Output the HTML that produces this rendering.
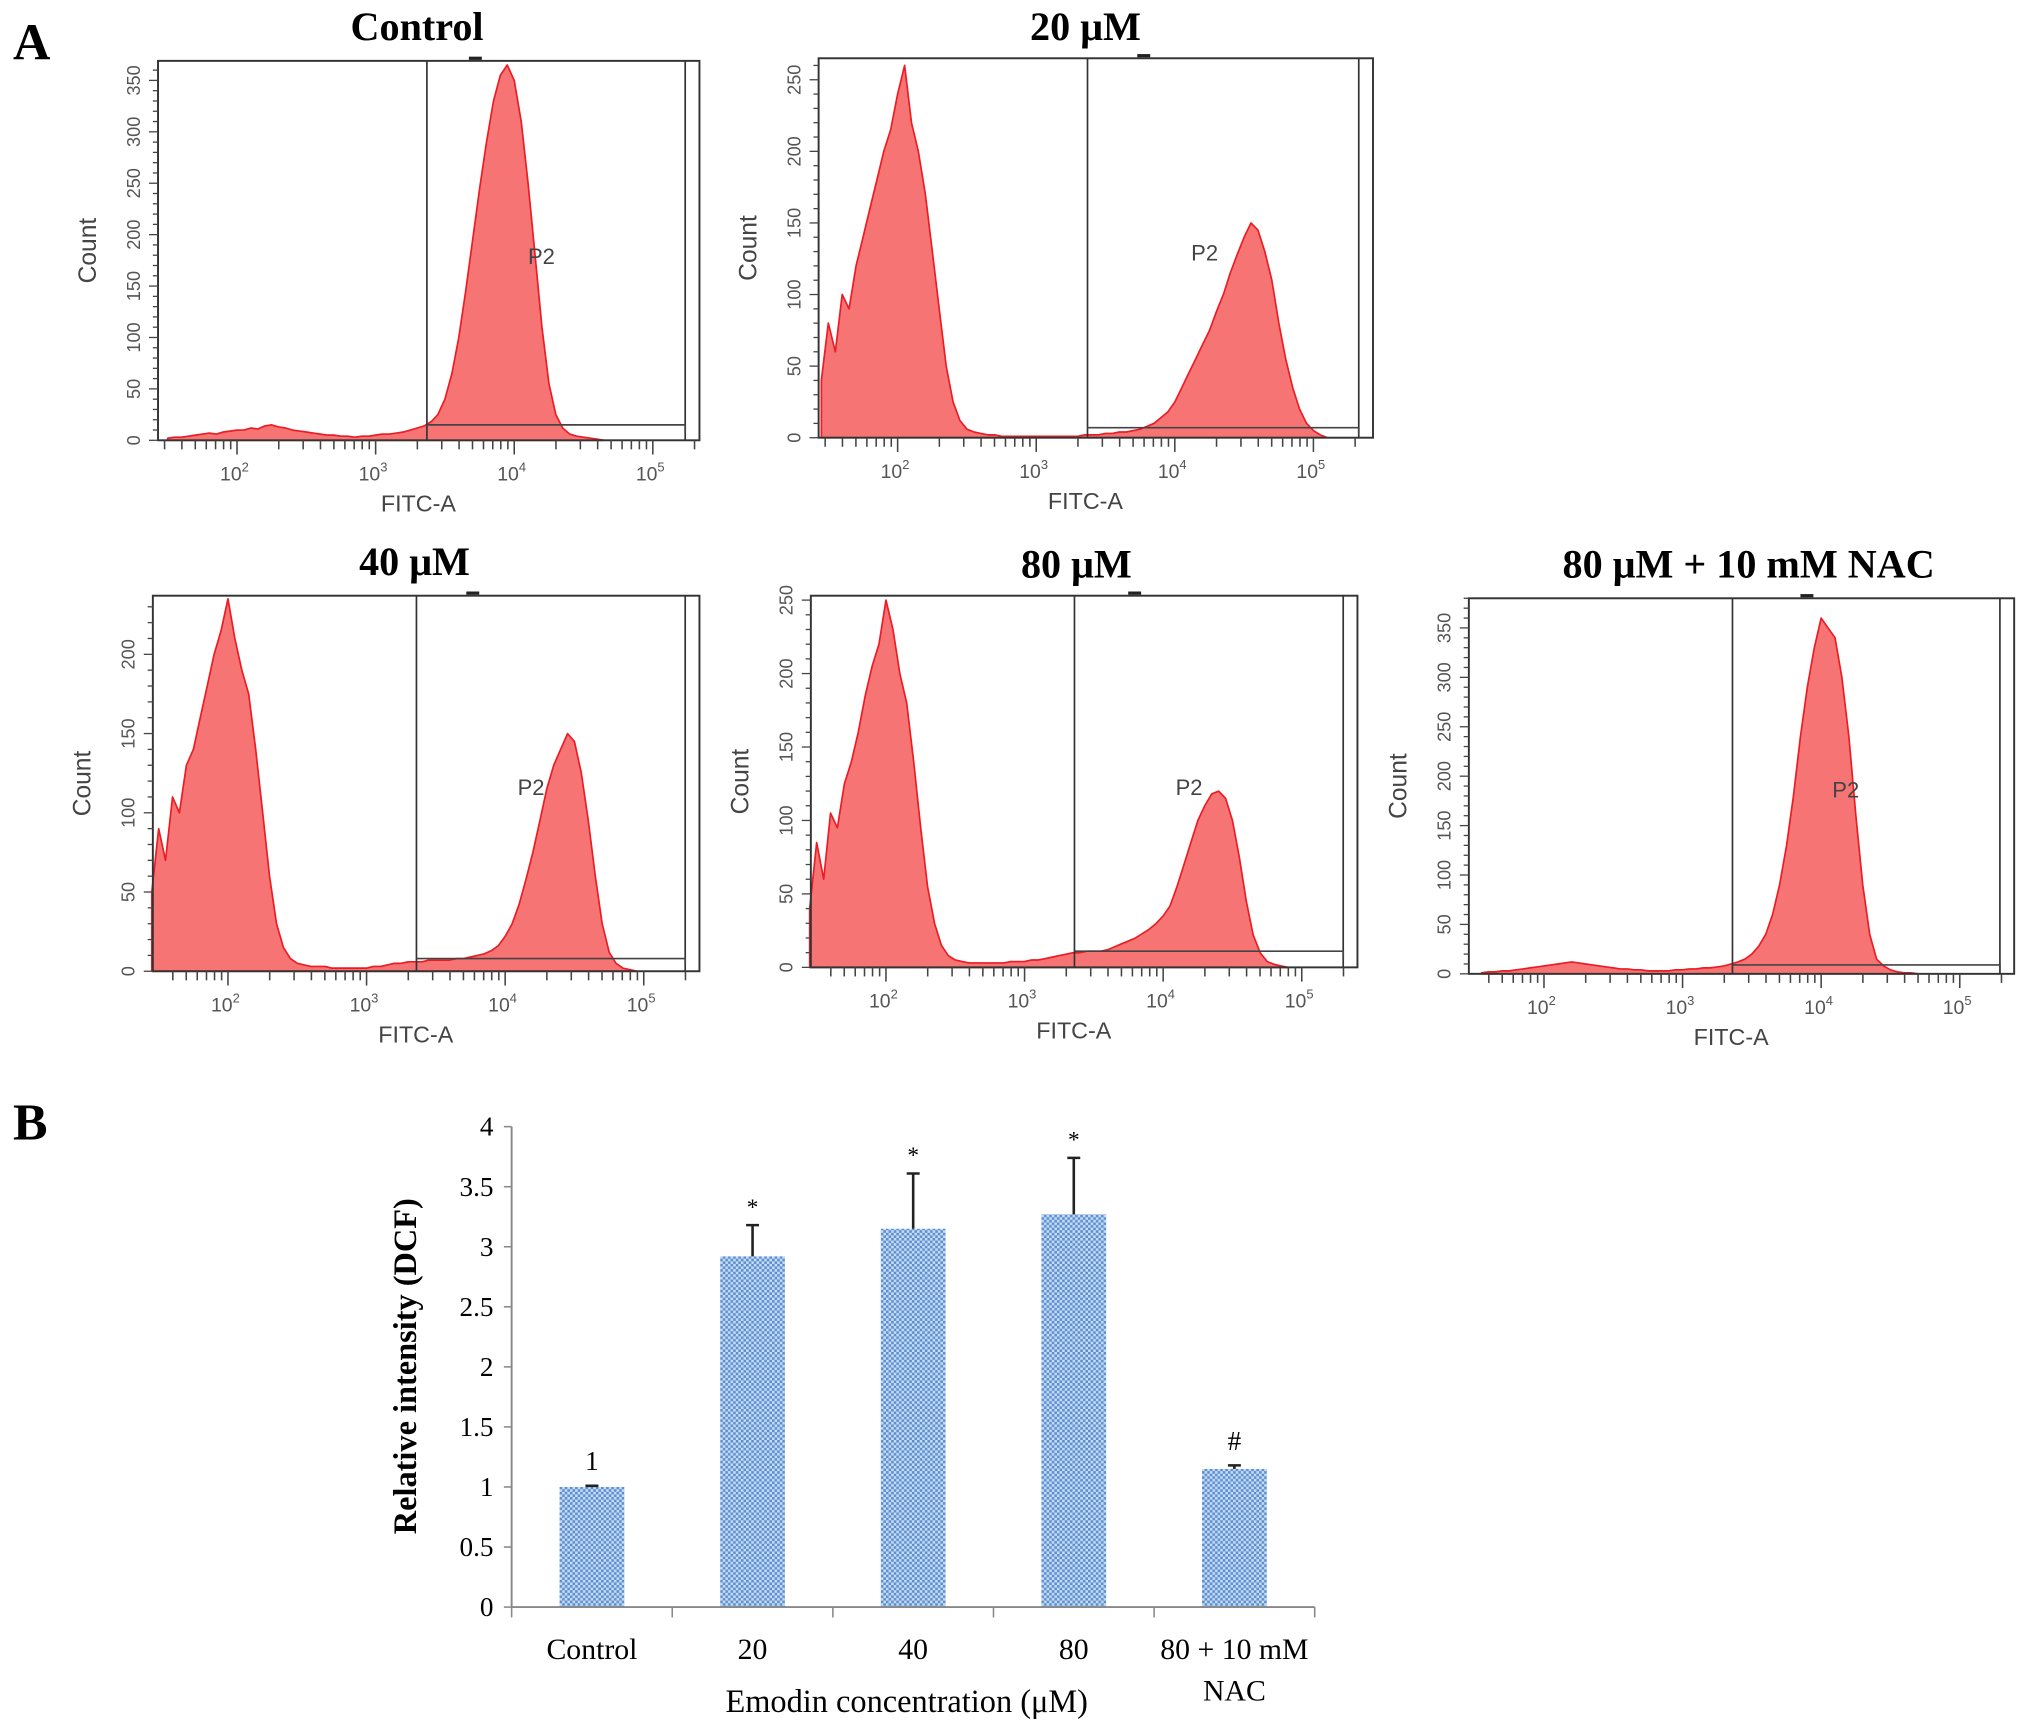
<!DOCTYPE html>
<html><head><meta charset="utf-8"><style>
html,body{margin:0;padding:0;background:#fff}
svg{display:block}
</style></head><body>
<svg id="fig" width="2031" height="1734" viewBox="0 0 1568 1339" preserveAspectRatio="none" xmlns="http://www.w3.org/2000/svg">
<defs>
<pattern id="chk" width="4" height="4" patternUnits="userSpaceOnUse">
<rect width="4" height="4" fill="#c9dcf2"/>
<rect width="2" height="2" fill="#5a8fd2"/>
<rect x="2" y="2" width="2" height="2" fill="#5a8fd2"/>
</pattern>
</defs>
<text x="10" y="46" font-family="Liberation Serif, serif" font-weight="bold" font-size="40">A</text>
<text x="10" y="880" font-family="Liberation Serif, serif" font-weight="bold" font-size="40">B</text>
<g id="hists"></g>
<g id="bars"></g>
</svg>
<script>
// ---------- Histogram data (counts per log10 bin, step 0.05) ----------
const histStart = [1.5,1.45,1.45,1.45,1.55];
const binStep = 0.05;
const histControl = [2,3,3,4,5,6,7,6,8,9,10,10, 12,11,14,15,13,12,10,9,8,7, 6,5,5,4,4,3,4,4,5,6, 6,7,8,10,12,14,18, 25,40,65,100,145,195, 245,290,330,355,365,350, 310,250,180,110,55,25, 12,6,4,3,2,1,0];
const hist20 = [40,80,60,100,90,120,140,160,180,200,215,240, 260,220,200,170,130,90,50,25,12,6, 4,3,2,2,1,1,1,1,1,1, 1,1,1,1,1,1,2, 2,2,3,3,4,4, 5,6,8,10,14,18, 25,35,45,55,65,75, 88,100,115,128,140,150,145, 130,110,80,55,35,20,10, 5,2,0];
const hist40 = [50,90,70,110,100,130,140,160,180,200,215,235, 210,190,175,140,100,60,30,15,8,5, 4,3,3,3,2,2,2,2,2,2, 3,3,4,5,5,6,6, 6,7,7, 7,7,8,8,9,10, 11,13,16,22,30,42, 58,75,95,115,130,140, 150,145,125,95,60,30,12, 5,2,1,0];
const hist80 = [40,85,60,105,95,125,140,160,185,205,220,250, 230,200,180,140,95,55,30,15,8,5, 4,3,3,3,3,3,3,4,4,4, 5,5,6,7,8,9,10, 10,11,11, 11,12,14,16,18,20, 23,26,30,35,42,55, 70,85,100,110,118,120, 115,100,75,45,22,10,4, 2,1,0];
const histNAC = [1,2,2,3,3,4,5,6,7,8,9,10, 11,12,11,10,9,8,7,6,5,5, 4,4,3,3,3,3,4,4,5,5, 6,6,7,8,10,12,15, 20,28,40,60,90,130, 180,240,290,330,360,350, 340,300,240,160,90,40, 15,8,4,2,1,1,0];
const histTitles = ["Control","20 μM","40 μM","80 μM","80 μM + 10 mM NAC"];
const histYTicks = [[0,50,100,150,200,250,300,350],[0,50,100,150,200,250],[0,50,100,150,200],[0,50,100,150,200,250],[0,50,100,150,200,250,300,350]];
const histYTop = [369,265,237,253,380];
const gateLog = [3.37,3.37,3.36,3.36,3.36];
const gateCount = [15,7,8,11,9];
const decadeLabels = ["2","3","4","5"];

// layout (positions, not data)
const panels = [
  {l:122,t:47,r:540,b:340,p2:183,data:histControl,tx:322,ty:22,p2lbl:[418,198]},
  {l:632,t:45,r:1060,b:338,p2:693,data:hist20,tx:838,ty:22,p2lbl:[930,195]},
  {l:118,t:460,r:540,b:750,p2:176,data:hist40,tx:320,ty:435,p2lbl:[410,608]},
  {l:626,t:460,r:1048,b:747,p2:684,data:hist80,tx:831,ty:437,p2lbl:[918,608]},
  {l:1134,t:462,r:1555,b:752,p2:1192,data:histNAC,tx:1350,ty:437,p2lbl:[1425,610]}
];
const NS="http://www.w3.org/2000/svg";
function mk(tag,attrs,parent,txt){const e=document.createElementNS(NS,tag);for(const k in attrs)e.setAttribute(k,attrs[k]);if(txt!==undefined)e.textContent=txt;parent.appendChild(e);return e;}
const hg=document.getElementById('hists');
panels.forEach((P,i)=>{
  const g=mk('g',{},hg);
  
  
  const xs=lg=>P.p2+(lg-2)*107;
  const ys=c=>P.b-Math.min(c,histYTop[i])/histYTop[i]*(P.b-P.t);
  const title=mk('text',{x:P.tx,y:P.ty+9,'text-anchor':'middle','font-family':'Liberation Serif, serif','font-weight':'bold','font-size':31},g,histTitles[i]);
  
  
  const bs=histStart[i];
  let d='M'+xs(bs).toFixed(1)+','+P.b;
  P.data.forEach((c,k)=>{const lg=bs+k*binStep;d+=' L'+xs(lg).toFixed(1)+','+ys(c).toFixed(1);});
  d+=' L'+xs(bs+(P.data.length-1)*binStep).toFixed(1)+','+P.b+' Z';
  const area=mk('path',{d:d,fill:'#f77474',stroke:'#ec1c24','stroke-width':1.3,'stroke-linejoin':'round'},g);
  
  
  const fr=mk('rect',{x:P.l,y:P.t,width:P.r-P.l,height:P.b-P.t,fill:'none',stroke:'#333','stroke-width':1.5},g);
  
  
  mk('line',{x1:P.r-11,y1:P.t,x2:P.r-11,y2:P.b,stroke:'#333','stroke-width':1.3},g);
  mk('line',{x1:P.tx+40,y1:P.t-2,x2:P.tx+50,y2:P.t-2,stroke:'#222','stroke-width':2.5},g);
  const gx=xs(gateLog[i]);
  const gv=mk('line',{x1:gx,y1:P.t,x2:gx,y2:P.b,stroke:'#333','stroke-width':1.3},g);
  
  
  const gyy=ys(gateCount[i]);
  mk('polyline',{points:`${gx},${gyy} ${P.r-11},${gyy} ${P.r-11},${gyy+6}`,fill:'none',stroke:'#444','stroke-width':1.3},g);
  const p2=mk('text',{x:P.p2lbl[0],y:P.p2lbl[1]+6,'text-anchor':'middle','font-family':'Liberation Sans, sans-serif','font-size':17,fill:'#444'},g,'P2');
  
  
  for(let c=0;c<=histYTop[i];c+=10){const y=ys(c);mk('line',{x1:P.l-(c%50===0?7:4),y1:y,x2:P.l,y2:y,stroke:'#444','stroke-width':1},g);}
  histYTicks[i].forEach(v=>{const y=ys(v);const t=mk('text',{x:P.l-14,y:y,'text-anchor':'middle','font-family':'Liberation Sans, sans-serif','font-size':14,fill:'#555',transform:`rotate(-90 ${P.l-14} ${y})`},g,v);
    
    });
  const yl=mk('text',{x:P.l-48,y:(P.t+P.b)/2,'text-anchor':'middle','font-family':'Liberation Sans, sans-serif','font-size':19,fill:'#444',transform:`rotate(-90 ${P.l-48} ${(P.t+P.b)/2})`},g,'Count');
  
  
  for(let dec=1;dec<=5;dec++){for(let m=1;m<=9;m++){const lg=dec+Math.log10(m);const x=xs(lg);if(x<P.l+3||x>P.r)continue;mk('line',{x1:x,y1:P.b,x2:x,y2:P.b+(m===1?11:7),stroke:'#444','stroke-width':1.2},g);}}
  decadeLabels.forEach((e,k)=>{const x=xs(2+k);const t=mk('text',{x:x-2,y:P.b+31,'text-anchor':'middle','font-family':'Liberation Sans, sans-serif','font-size':15,fill:'#555'},g);
    
    
    mk('tspan',{},t,'10');mk('tspan',{dy:-7,'font-size':10},t,e);});
  const xl=mk('text',{x:(P.l+P.r)/2-8,y:P.b+55,'text-anchor':'middle','font-family':'Liberation Sans, sans-serif','font-size':18,fill:'#444'},g,'FITC-A');
  
  
});

// ---------- Bar chart data ----------
const barCats = ["Control","20","40","80","80 + 10  mM"];
const barVals = [1,2.92,3.15,3.27,1.15];
const barErr = [0.01,0.26,0.46,0.47,0.03];
const barMarks = ["1","*","*","*","#"];
const yTickVals = [0,0.5,1,1.5,2,2.5,3,3.5,4];
const yTickLbls = ["0","0.5","1","1.5","2","2.5","3","3.5","4"];

const bg=document.getElementById('bars');
const AX={l:395,r:1015,y0:1241,y4:870};
const yb=v=>AX.y0-v/4*(AX.y0-AX.y4);
const band=(AX.r-AX.l)/barCats.length;
const xc=i=>AX.l+band*(i+0.5);
const yAxis=mk('line',{x1:AX.l,y1:AX.y4,x2:AX.l,y2:AX.y0,stroke:'#888','stroke-width':1.5},bg);


yTickVals.forEach((v,k)=>{const y=yb(v);mk('line',{x1:AX.l-6,y1:y,x2:AX.l,y2:y,stroke:'#888','stroke-width':1.2},bg);
  const t=mk('text',{x:AX.l-14,y:y+7,'text-anchor':'end','font-family':'Liberation Serif, serif','font-size':21},bg,yTickLbls[k]);
  
  });
barVals.forEach((v,i)=>{
  const x=xc(i);
  const r=mk('rect',{x:x-25,y:yb(v),width:50,height:AX.y0-yb(v),fill:'url(#chk)'},bg);
  
  
  const ey=yb(v+barErr[i]);
  const e=mk('path',{d:`M${x},${yb(v)} L${x},${ey} M${x-5},${ey} L${x+5},${ey}`,stroke:'#222','stroke-width':2,fill:'none'},bg);
  
  
  const m=mk('text',{x:x,y:ey-(barMarks[i]==='*'?8:12),'text-anchor':'middle','font-family':'Liberation Serif, serif','font-size':barMarks[i]==='*'?18:21},bg,barMarks[i]);
  
  
  const c=mk('text',{x:x,y:1281,'text-anchor':'middle','font-family':'Liberation Serif, serif','font-size':23},bg,barCats[i]);
  
  
});
const nac=mk('text',{x:xc(4),y:1313,'text-anchor':'middle','font-family':'Liberation Serif, serif','font-size':23},bg,'NAC');


const xAxis=mk('line',{x1:AX.l,y1:AX.y0,x2:AX.r,y2:AX.y0,stroke:'#888','stroke-width':1.5},bg);


for(let i=0;i<=barCats.length;i++){const x=AX.l+band*i;mk('line',{x1:x,y1:AX.y0,x2:x,y2:AX.y0+8,stroke:'#888','stroke-width':1.2},bg);}
const xt=mk('text',{x:700,y:1322,'text-anchor':'middle','font-family':'Liberation Serif, serif','font-size':25},bg,'Emodin concentration (μM)');


const yt=mk('text',{x:321,y:1055,'text-anchor':'middle','font-family':'Liberation Serif, serif','font-weight':'bold','font-size':25,transform:'rotate(-90 321 1055)'},bg,'Relative intensity (DCF)');


</script>
</body></html>
